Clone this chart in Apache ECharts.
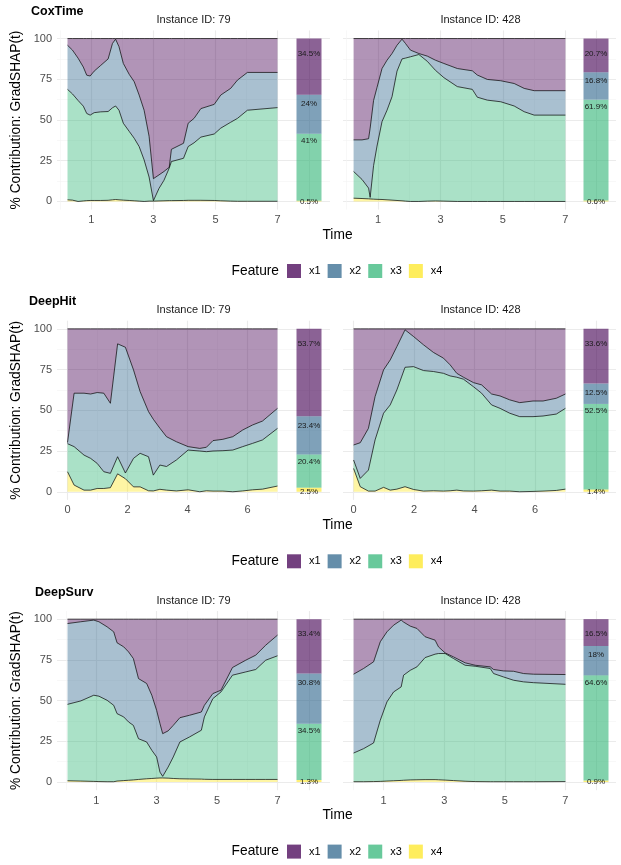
<!DOCTYPE html>
<html>
<head>
<meta charset="utf-8">
<script src="https://cdn.jsdelivr.net/npm/echarts@6/dist/echarts.min.js"></script>
<style>
  html, body { margin: 0; padding: 0; background: #fff; }
  #chart { width: 621px; height: 865px; }
</style>
</head>
<body>
<div id="chart"></div>
<script>
const features = ['x1', 'x2', 'x3', 'x4'];
const models = ['CoxTime', 'DeepHit', 'DeepSurv'];
const instances = ['79', '428'];

const oddTicks = [1, 3, 5, 7];
const evenTicks = [0, 2, 4, 6];
const yTicks = [0, 25, 50, 75, 100];
const yMinor = [12.5, 37.5, 62.5, 87.5];

// stacked bands: upper edge of x4, x3 and x2 (x1 always tops out at 100)
const cox79Time = [0.23,0.39,0.57,0.74,0.85,0.96,1.09,1.30,1.54,1.68,1.78,1.89,2.03,2.22,2.38,2.54,2.70,2.86,3.00,3.18,3.34,3.51,3.58,3.97,4.12,4.31,4.53,4.96,5.17,5.49,5.71,6.03,7.00];
const cox79X2 = [95.9,92.9,88,82.5,77.5,77,80,83.5,87.5,97,99.6,95,84.7,78,73.5,65.3,56,40,14,16.3,18.4,21,32,35.7,48,51,57,59.6,65.3,69.4,74.5,79.2,79.2];
const cox79X3 = [68.8,66,62,58.5,54,53,54.5,55,55.2,57.5,58.6,56,48,43,38.8,33.7,25.5,15,0.5,8,13,20.5,24.5,26.5,33.7,36,39.5,41.4,45,48.6,51,56,57.6];
const cox79X4 = [1,0.8,0,0.3,0.5,0.6,0.6,0.6,0.7,1,1.2,1,0.8,0.6,0.4,0.2,0,0.2,0.2,0.3,0.4,0.5,0.5,0.6,0.7,0.7,0.7,0.6,0.4,0.2,0.1,0.1,0.1];

const cox428Time = [0.22,0.49,0.70,0.75,0.86,0.97,1.13,1.29,1.45,1.61,1.77,1.88,2.04,2.31,2.58,2.84,3.11,3.54,4.02,4.18,4.50,4.93,5.36,5.68,6.00,7.00];
const cox428X2 = [37.8,37.8,38.5,45,62,70,81.6,86.7,90.8,95.9,99.6,97,92.9,90.8,89.2,86.7,84.7,81.6,80.2,77.6,74.9,74.1,72.4,69.4,68,68];
const cox428X3 = [18.4,13.5,8.2,2.5,22,34,49,56,64.3,80,87.5,88,88.8,90.2,86,80.5,76,70.5,68.8,64,62.2,61.2,58.6,55.1,53,53];
const cox428X4 = [2,1.8,1.6,1.5,1.4,1.3,1.2,1,0.8,0.6,0.4,0.2,0,0,0.2,0.3,0.2,0,0,0,0,0,0,0,0,0];

const hit79Time = [0,0.22,0.55,0.77,0.99,1.21,1.43,1.67,1.93,2.20,2.42,2.70,2.86,3.08,3.30,3.63,4.02,4.41,4.63,4.85,5.18,5.51,5.84,6.17,6.50,7.00];
const hit79X2 = [30.2,60.5,60.5,60,60.9,60.5,54.3,90.8,88.7,74.8,61.5,49.2,44.5,39,33.8,30.7,27.7,26.6,27.3,31.4,32.2,33.8,37.9,41,43.4,51.2];
const hit79X3 = [29.5,27.7,22.5,20.5,17.4,12.3,11.3,21.5,11.5,20.5,23.6,21.5,10.2,16.4,15.5,19.5,25.6,25,24.6,25,25.2,25.6,27.7,29.7,31.8,38.9];
const hit79X4 = [12.3,4.1,1,1,2,2,2.5,11,8,3,3,0.6,0.5,1.5,1,0.5,1.2,0,0.6,0.4,0.4,0,0.5,1.2,1.6,3.5];

const hit428Time = [0,0.22,0.49,0.71,0.99,1.21,1.43,1.70,1.98,2.31,2.64,2.97,3.19,3.41,3.63,3.96,4.23,4.56,4.84,5.16,5.49,5.93,6.26,6.70,7.00];
const hit428X2 = [28.7,30.1,38.9,58.4,74.8,80.9,89.1,99.4,95.3,90.2,85.5,82,77.9,72.7,70.3,67,65.6,60,58.8,56.4,54.7,55.7,55.7,57.4,60];
const hit428X3 = [19.5,8.2,13.3,31.8,48.2,53.3,62.5,76.4,76.8,74.4,73.8,72.7,71.1,70.3,69.1,64.5,60.5,53.3,51.2,48.2,46.1,46.1,46.5,47.7,51.2];
const hit428X4 = [14.3,3.1,0.4,0.4,2.7,1,1.6,3.1,1.4,0.4,0.6,0.4,0.6,1,0.5,0.4,0.6,1,0.4,0.4,0,0.2,0.4,0.8,1.6];

const surv79Time = [0.05,0.49,0.92,1.09,1.36,1.58,1.69,1.91,2.07,2.23,2.40,2.67,2.84,3.00,3.11,3.20,3.38,3.55,3.77,4.09,4.48,4.58,4.86,5.13,5.51,5.95,6.28,6.61,7.00];
const surv79X2 = [97.3,98.4,99.4,98.4,95.3,92.2,85.5,83,79.9,75.8,63.5,60.5,53.3,44,35.9,29.7,31.4,34.8,39.5,41,43,47.1,54.3,56.4,70.3,74.8,77.9,84,90.2];
const surv79X3 = [47.7,49.8,53.3,52.7,50.2,47.1,42,40,36.9,34.8,26.6,24.6,19.5,15.4,6.1,3.5,9.2,15.4,24.6,27.7,31.8,40,51.2,55.3,65.6,67.6,69.1,74.8,77.5];
const surv79X4 = [0.8,0.6,0.4,0.3,0.2,0.2,0.6,0.9,1.1,1.3,1.6,2,2.2,2.4,2.5,2.5,2.4,2.2,2,1.9,1.8,1.7,1.6,1.6,1.6,1.6,1.6,1.6,1.6];

const surv428Time = [0.01,0.34,0.67,0.89,1.11,1.33,1.58,1.66,1.88,2.10,2.37,2.70,2.81,3.03,3.31,3.69,4.02,4.52,4.63,4.96,5.29,5.62,5.95,7.00];
const surv428X2 = [66.2,69.7,73.8,86.1,92.2,96.3,99.4,98.2,95.7,94.3,89.2,87.1,83,79.3,76.8,73.2,71.7,70.7,69.1,68.2,68,66.6,66.2,66];
const surv428X3 = [17.8,20.5,24,37.9,49.2,55.3,58.4,65.6,68.6,70.7,76.4,78.5,78.9,78.9,75.8,71.7,71.1,69.7,66.6,64.5,62.5,61.5,61,60];
const surv428X4 = [0.2,0.2,0.3,0.4,0.6,0.8,1,1.1,1.3,1.4,1.5,1.5,1.4,1.2,0.9,0.5,0.3,0.2,0.2,0.2,0.2,0.2,0.2,0.3];

// overall share per feature (x1..x4), side bars
const cox79Share = [34.5, 24, 41, 0.5];
const cox428Share = [20.7, 16.8, 61.9, 0.6];
const hit79Share = [53.7, 23.4, 20.4, 2.5];
const hit428Share = [33.6, 12.5, 52.5, 1.4];
const surv79Share = [33.4, 30.8, 34.5, 1.3];
const surv428Share = [16.5, 18, 64.6, 0.9];

const panels = [
  { sec: 0, side: 0, time: cox79Time, x2: cox79X2, x3: cox79X3, x4: cox79X4, share: cox79Share, ticks: oddTicks, minor: evenTicks },
  { sec: 0, side: 1, time: cox428Time, x2: cox428X2, x3: cox428X3, x4: cox428X4, share: cox428Share, ticks: oddTicks, minor: evenTicks },
  { sec: 1, side: 0, time: hit79Time, x2: hit79X2, x3: hit79X3, x4: hit79X4, share: hit79Share, ticks: evenTicks, minor: oddTicks },
  { sec: 1, side: 1, time: hit428Time, x2: hit428X2, x3: hit428X3, x4: hit428X4, share: hit428Share, ticks: evenTicks, minor: oddTicks },
  { sec: 2, side: 0, time: surv79Time, x2: surv79X2, x3: surv79X3, x4: surv79X4, share: surv79Share, ticks: oddTicks, minor: evenTicks },
  { sec: 2, side: 1, time: surv428Time, x2: surv428X2, x3: surv428X3, x4: surv428X4, share: surv428Share, ticks: oddTicks, minor: evenTicks }
];

const viridis = ['#440154', '#31688E', '#35B779', '#FDE725'];
const barColors = ['rgba(68,1,84,0.62)', 'rgba(49,104,142,0.62)', 'rgba(53,183,121,0.62)', 'rgba(253,231,37,0.62)'];
const keyColors = ['#73407F', '#658EAA', '#68C99B', '#FEED5C'];
const FONT = '"Liberation Sans", Arial, sans-serif';
const SEC_H = 290.3;
const TOP = 30.4, H = 179.2;
const cols = [
  { main: [57, 231], bar: [288, 42], mid: 193.5 },
  { main: [343, 233], bar: [576, 40], mid: 480.5 }
];
const majorLine = { color: '#EBEBEB', width: 1.1 };
const minorLine = { color: '#F3F3F3', width: 0.6 };

const grid = [], xAxis = [], yAxis = [], series = [], graphic = [], legend = [];

function addAxes(g, xmin, xmax, xMajor, xMinor, showX, showY) {
  xAxis.push({
    type: 'value', gridIndex: g, min: xmin, max: xmax,
    axisLine: { show: false },
    axisTick: { show: false, customValues: xMajor },
    axisLabel: { show: showX, customValues: xMajor, color: '#4D4D4D', fontSize: 11, margin: 5 },
    splitLine: { show: true, lineStyle: majorLine }
  });
  xAxis.push({
    type: 'value', gridIndex: g, min: xmin, max: xmax,
    axisLine: { show: false },
    axisTick: { show: false, customValues: xMinor },
    axisLabel: { show: false },
    splitLine: { show: xMinor.length > 0, lineStyle: minorLine }
  });
  yAxis.push({
    type: 'value', gridIndex: g, min: -5, max: 105,
    axisLine: { show: false },
    axisTick: { show: false, customValues: yTicks },
    axisLabel: { show: showY, customValues: yTicks, color: '#4D4D4D', fontSize: 11, margin: 5 },
    splitLine: { show: true, lineStyle: majorLine }
  });
  yAxis.push({
    type: 'value', gridIndex: g, min: -5, max: 105,
    axisLine: { show: false },
    axisTick: { show: false, customValues: yMinor },
    axisLabel: { show: false },
    splitLine: { show: true, lineStyle: minorLine }
  });
}

const labelPos = [
  { position: 'insideTop', distance: 11 },
  { position: 'insideTop', distance: 5 },
  { position: 'insideTop', distance: 3 },
  { position: 'insideBottom', distance: 0, offset: [0, 4] }
];

panels.forEach(function (p, i) {
  const c = cols[p.side];
  const top = TOP + p.sec * SEC_H;
  const gMain = i * 2, gBar = i * 2 + 1;
  grid.push({ left: c.main[0], top: top, width: c.main[1], height: H });
  grid.push({ left: c.bar[0], top: top, width: c.bar[1], height: H });

  const t0 = p.time[0], t1 = p.time[p.time.length - 1];
  const pad = (t1 - t0) * 0.05;
  addAxes(gMain, t0 - pad, t1 + pad, p.ticks, p.minor, true, p.side === 0);
  addAxes(gBar, 0.4, 1.6, [1], [], false, false);

  // value first, time second: the stack then runs on y
  const tops = [p.time.map(() => 100), p.x2, p.x3, p.x4];
  for (let k = 3; k >= 0; k--) {
    series.push({
      name: features[k], type: 'line', stack: 'area' + i,
      xAxisIndex: gMain * 2, yAxisIndex: gMain * 2,
      encode: { x: 1, y: 0 },
      symbol: 'none', silent: true,
      data: p.time.map(function (t, j) {
        const lower = k === 3 ? 0 : tops[k + 1][j];
        return [+(tops[k][j] - lower).toFixed(2), t];
      }),
      itemStyle: { color: viridis[k] },
      lineStyle: { color: '#000', width: 0.7 },
      areaStyle: { color: viridis[k], opacity: 0.42 }
    });
    series.push({
      name: features[k], type: 'bar', stack: 'bar' + i,
      xAxisIndex: gBar * 2, yAxisIndex: gBar * 2,
      encode: { x: 1, y: 0 },
      barWidth: 25, silent: true,
      data: [[p.share[k], 1]],
      itemStyle: { color: barColors[k] },
      label: Object.assign({
        show: true, formatter: p.share[k] + '%',
        fontSize: 8, color: '#1A1A1A', fontFamily: FONT
      }, labelPos[k])
    });
  }

  graphic.push({
    type: 'text', x: c.mid, y: 20 + p.sec * SEC_H,
    style: { text: 'Instance ID: ' + instances[p.side], font: '11px ' + FONT, fill: '#1A1A1A', textAlign: 'center', textVerticalAlign: 'middle' }
  });
});

const titleX = [31, 29, 35];
models.forEach(function (m, s) {
  const off = s * SEC_H;
  graphic.push({
    type: 'text', x: titleX[s], y: 11.5 + off,
    style: { text: m, font: 'bold 12.5px ' + FONT, fill: '#000', textVerticalAlign: 'middle' }
  });
  graphic.push({
    type: 'text', x: 16, y: 120 + off, rotation: Math.PI / 2,
    style: { text: '% Contribution: GradSHAP(t)', font: '13.75px ' + FONT, fill: '#000', textAlign: 'center', textVerticalAlign: 'middle' }
  });
  graphic.push({
    type: 'text', x: 337.5, y: 235 + off,
    style: { text: 'Time', font: '13.75px ' + FONT, fill: '#000', textAlign: 'center', textVerticalAlign: 'middle' }
  });
  graphic.push({
    type: 'text', x: 279, y: 271 + off,
    style: { text: 'Feature', font: '13.75px ' + FONT, fill: '#000', textAlign: 'right', textVerticalAlign: 'middle' }
  });
  legend.push({
    left: 287, top: 264 + off, padding: 0,
    itemWidth: 14, itemHeight: 14, itemGap: 7,
    selectedMode: false,
    textStyle: { fontSize: 11, color: '#000', fontFamily: FONT, padding: [0, 0, 0, 3] },
    itemStyle: { borderWidth: 0 },
    data: features.map(function (f, k) {
      return { name: f, icon: 'rect', itemStyle: { color: keyColors[k], opacity: 1, borderWidth: 0 } };
    })
  });
});

const chart = echarts.init(document.getElementById('chart'), null, { renderer: 'canvas' });
chart.setOption({
  animation: false,
  backgroundColor: '#fff',
  textStyle: { fontFamily: FONT },
  grid: grid,
  xAxis: xAxis,
  yAxis: yAxis,
  legend: legend,
  series: series,
  graphic: graphic
});
</script>
</body>
</html>
